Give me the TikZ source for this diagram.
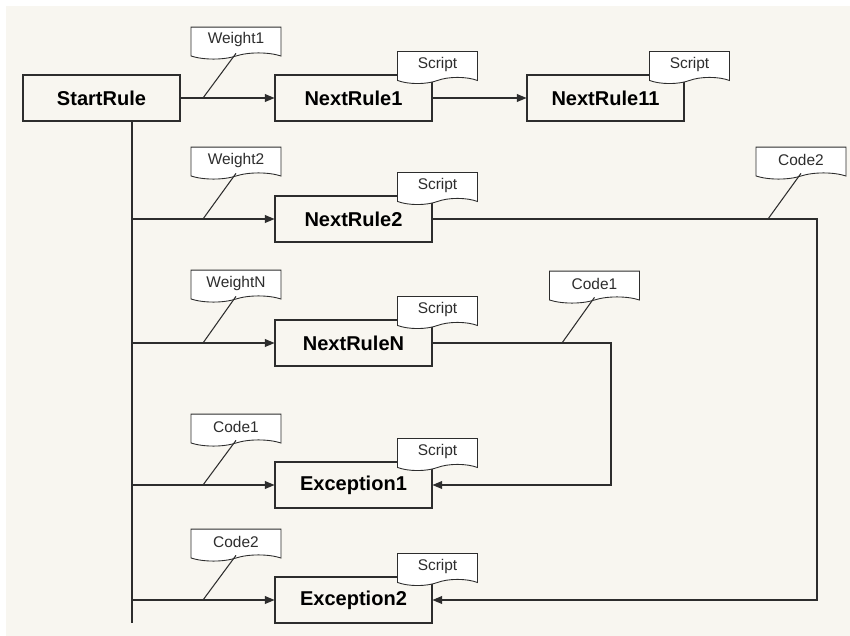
\documentclass[tikz,border=0pt]{standalone}
\usepackage{fontspec}
\setmainfont{Liberation Sans}
\usetikzlibrary{shapes.symbols,arrows.meta}
\definecolor{paper}{RGB}{248,246,240}
\definecolor{ink}{RGB}{45,45,45}

\begin{document}
\begin{tikzpicture}[x=0.02cm,y=-0.02cm,
    rule/.style={draw=ink,fill=paper,line width=0.6pt,minimum width=3.14cm,minimum height=0.92cm,
        font=\bfseries\fontsize{11.4}{13}\selectfont},
    tag/.style={tape,tape bend top=none,tape bend height=3.5pt,draw=ink,fill=white,line width=0.5pt,
        minimum width=1.8cm,minimum height=0.64cm,inner sep=1pt,text=ink,font=\fontsize{8.8}{10}\selectfont},
    scripttag/.style={tag,minimum width=1.6cm},
    link/.style={ink,line width=0.6pt},
    arr/.style={link,-{Triangle[length=5.5pt,width=4.5pt]}}]
    % paper
    \useasboundingbox (0,0) rectangle (850,636);
    \fill[white] (0,0) rectangle (850,636);
    \fill[paper] (6,6) rectangle (850,636);

    % rules
    \node[rule] (start) at (101.5,98) {StartRule};
    \node[rule] (next1) at (353.5,98) {NextRule1};
    \node[rule] (next11) at (605.5,98) {NextRule11};
    \node[rule] (next2) at (353.5,219) {NextRule2};
    \node[rule] (nextN) at (353.5,343) {NextRuleN};
    \node[rule] (exc1) at (353.5,485) {Exception1};
    \node[rule] (exc2) at (353.5,600) {Exception2};

    % trunk and branches
    \coordinate (trunk) at (132,623);
    \draw[link] (start.south -| trunk) -- (trunk);
    \draw[arr] (start) -- (next1);
    \draw[arr] (next1) -- (next11);
    \foreach \n in {next2,nextN,exc1,exc2}
        \draw[arr] (trunk |- \n) -- (\n);

    % way back to the exceptions
    \coordinate (back1) at (611,343);
    \coordinate (back2) at (817,219);
    \draw[arr] (nextN) -- (back1) |- (exc1);
    \draw[arr] (next2) -- (back2) |- (exc2);

    % script tags
    \foreach \n in {next1,next11,next2,nextN,exc1,exc2}
        \node[scripttag] (s-\n) at ([shift={(5,-10)}]\n.north east) {Script};

    % condition tags
    \node[tag] (w1) at (236,40) {Weight1};
    \node[tag] (w2) at (236,160) {Weight2};
    \node[tag] (wN) at (236,283) {WeightN};
    \node[tag] (c1) at (236,427) {Code1};
    \node[tag] (c2) at (236,542) {Code2};
    \node[tag] (c1r) at (594.5,284) {Code1};
    \node[tag] (c2r) at (801,160) {Code2};

    % tag leaders
    \coordinate (p1) at (203,98);
    \coordinate (p2) at (203,219);
    \coordinate (pN) at (203,343);
    \coordinate (q1) at (203,485);
    \coordinate (q2) at (203,600);
    \coordinate (q1r) at (562,343);
    \coordinate (q2r) at (768,219);
    \draw[link] (w1.south) -- (p1);
    \draw[link] (w2.south) -- (p2);
    \draw[link] (wN.south) -- (pN);
    \draw[link] (c1.south) -- (q1);
    \draw[link] (c2.south) -- (q2);
    \draw[link] (c1r.south) -- (q1r);
    \draw[link] (c2r.south) -- (q2r);
\end{tikzpicture}
\end{document}
